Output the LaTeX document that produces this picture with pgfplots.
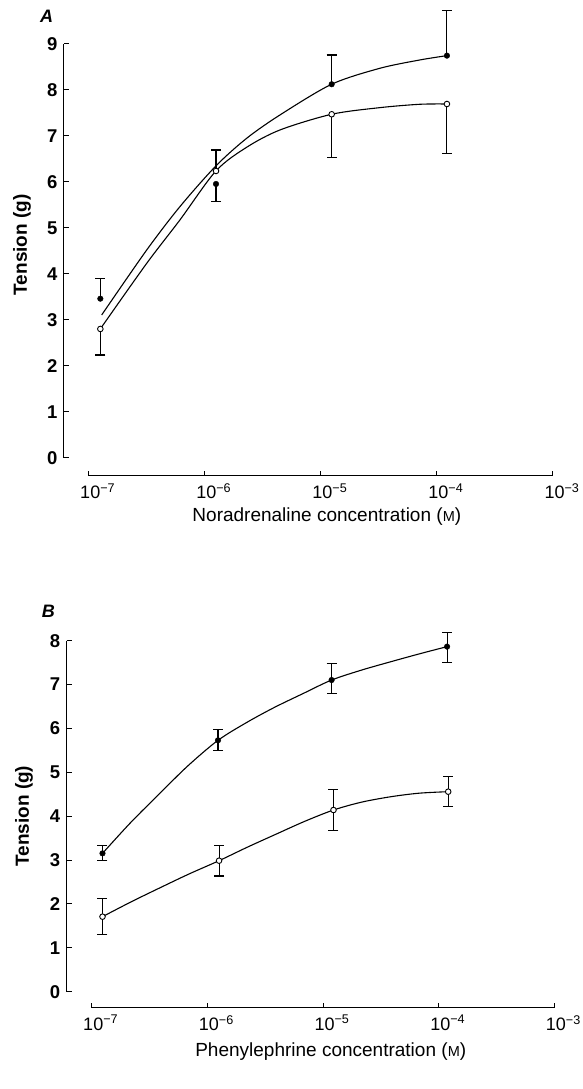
\documentclass[border=0pt]{standalone}
\usepackage{pgfplots}
\pgfplotsset{compat=1.18}
\usepackage{fontspec}
\setmainfont{Liberation Sans}

\pgfplotsset{
  fitline/.style={smooth, black, line width=1.1pt, mark=none},
  filledpt/.style={only marks, mark=*, mark size=2.8pt, mark options={fill=black, draw=black}},
  openpt/.style={only marks, mark=*, mark size=2.8pt, mark options={fill=white, draw=black, line width=0.9pt}},
}

\begin{document}
\begin{tikzpicture}
\path[use as bounding box] (0,0) rectangle (583pt,1089pt);

% Panel A: noradrenaline
\begin{axis}[scale only axis, clip=false,
  at={(88.7pt,631pt)}, anchor=south west,
  width=464.3pt, height=414.3pt,
  xmode=log, xmin=1e-7, xmax=1e-3, ymin=0, ymax=9,
  axis x line=bottom, axis y line=left,
  axis line style={-, line width=1pt},
  axis x line shift=18pt, axis y line shift=24.7pt,
  tick align=inside, major tick length=5pt,
  tick style={black, line width=1pt},
  xminorticks=false, yminorticks=false,
  xtick={1e-7,1e-6,1e-5,1e-4,1e-3},
  xticklabels={10\textsuperscript{−7},10\textsuperscript{−6},10\textsuperscript{−5},10\textsuperscript{−4},10\textsuperscript{−3}},
  xticklabel style={font=\fontsize{18}{18}\selectfont, anchor=north, xshift=9pt, yshift=-4pt},
  ytick={0,1,2,3,4,5,6,7,8,9}, yticklabels={0,1,2,3,4,5,6,7,8,9},
  yticklabel style={font=\bfseries\fontsize{18.5}{18.5}\selectfont, anchor=east, xshift=-3pt},
  xlabel={Noradrenaline concentration ({\fontsize{14.5}{14.5}\selectfont M})},
  xlabel style={font=\fontsize{19}{19}\selectfont, anchor=center, at={(axis description cs:0.5,0)}, xshift=6pt, yshift=-59pt},
  ylabel={Tension (g)},
  ylabel style={font=\bfseries\fontsize{19}{19}\selectfont, anchor=center, at={(axis description cs:0,0.5)}, xshift=6pt, yshift=66.7pt},
]
\addplot[draw=none, forget plot, error bars/.cd, y dir=plus, y explicit, error bar style={draw=black, line width=1.1pt}, error mark options={rotate=90, draw=black, line width=1.1pt, mark size=5pt}]
  coordinates {(1.26e-7,3.461) +- (0,0.443) (1.24e-5,8.119) +- (0,0.636) (1.22e-4,8.740) +- (0,0.978) (1.25e-6,6.235) +- (0,0.456)};
\addplot[draw=none, forget plot, error bars/.cd, y dir=minus, y explicit, error bar style={draw=black, line width=1.1pt}, error mark options={rotate=90, draw=black, line width=1.1pt, mark size=5pt}]
  coordinates {(1.25e-6,5.953) +- (0,0.384) (1.26e-7,2.803) +- (0,0.565) (1.24e-5,7.467) +- (0,0.943) (1.22e-4,7.690) +- (0,1.070)};
% fitted curves
\addplot[fitline] coordinates {(1.294e-7,3.107) (3.162e-7,4.519) (6.109e-7,5.460) (1.247e-6,6.344) (2.296e-6,6.945) (4.446e-6,7.452) (1.239e-5,8.119) (3.228e-5,8.466) (7.145e-5,8.647) (1.219e-4,8.740)};
\addplot[fitline] coordinates {(1.27e-7,2.817) (3.162e-7,4.229) (6.109e-7,5.171) (1.247e-6,6.235) (2.296e-6,6.750) (4.446e-6,7.126) (1.239e-5,7.467) (3.228e-5,7.611) (7.145e-5,7.684) (1.219e-4,7.690)};
% means
\addplot[filledpt] coordinates {(1.26e-7,3.461) (1.25e-6,5.953) (1.24e-5,8.119) (1.22e-4,8.740)};
\addplot[openpt] coordinates {(1.26e-7,2.803) (1.25e-6,6.235) (1.24e-5,7.467) (1.22e-4,7.690)};
\end{axis}

% Panel B: phenylephrine
\begin{axis}[scale only axis, clip=false,
  at={(91.7pt,97.3pt)}, anchor=south west,
  width=462.7pt, height=351pt,
  xmode=log, xmin=1e-7, xmax=1e-3, ymin=0, ymax=8,
  axis x line=bottom, axis y line=left,
  axis line style={-, line width=1pt},
  axis x line shift=16pt, axis y line shift=25pt,
  tick align=inside, major tick length=5pt,
  tick style={black, line width=1pt},
  xminorticks=false, yminorticks=false,
  xtick={1e-7,1e-6,1e-5,1e-4,1e-3},
  xticklabels={10\textsuperscript{−7},10\textsuperscript{−6},10\textsuperscript{−5},10\textsuperscript{−4},10\textsuperscript{−3}},
  xticklabel style={font=\fontsize{18}{18}\selectfont, anchor=north, xshift=9pt, yshift=-4pt},
  ytick={0,1,2,3,4,5,6,7,8}, yticklabels={0,1,2,3,4,5,6,7,8},
  yticklabel style={font=\bfseries\fontsize{18.5}{18.5}\selectfont, anchor=east, xshift=-3pt},
  xlabel={Phenylephrine concentration ({\fontsize{14.5}{14.5}\selectfont M})},
  xlabel style={font=\fontsize{19}{19}\selectfont, anchor=center, at={(axis description cs:0.5,0)}, xshift=7.7pt, yshift=-60pt},
  ylabel={Tension (g)},
  ylabel style={font=\bfseries\fontsize{19}{19}\selectfont, anchor=center, at={(axis description cs:0,0.5)}, yshift=67.7pt},
]
\addplot[draw=none, forget plot, error bars/.cd, y dir=both, y explicit, error bar style={draw=black, line width=1.1pt}, error mark options={rotate=90, draw=black, line width=1.1pt, mark size=5pt}]
  coordinates {(1.24e-7,3.153) += (0,0.17) -= (0,0.16) (1.236e-6,5.730) += (0,0.25) -= (0,0.24) (1.186e-5,7.104) += (0,0.38) -= (0,0.31) (1.181e-4,7.865) += (0,0.33) -= (0,0.36)
  (1.24e-7,1.710) += (0,0.41) -= (0,0.40) (1.262e-6,2.986) += (0,0.35) -= (0,0.35) (1.231e-5,4.141) += (0,0.46) -= (0,0.47) (1.208e-4,4.559) += (0,0.34) -= (0,0.34)};
\addplot[fitline] coordinates {(1.24e-7,3.153) (2.17e-7,3.854) (3.914e-7,4.530) (6.8e-7,5.150) (1.236e-6,5.730) (2.2e-6,6.140) (3.8e-6,6.480) (6.9e-6,6.810) (1.186e-5,7.104) (2.15e-5,7.330) (3.88e-5,7.523) (6.8e-5,7.700) (1.181e-4,7.865)};
\addplot[fitline] coordinates {(1.24e-7,1.710) (2.2e-7,2.050) (3.914e-7,2.371) (6.9e-7,2.680) (1.262e-6,2.986) (2.2e-6,3.290) (3.899e-6,3.587) (6.9e-6,3.880) (1.231e-5,4.141) (2.15e-5,4.320) (3.88e-5,4.445) (6.8e-5,4.525) (1.208e-4,4.559)};
\addplot[filledpt] coordinates {(1.24e-7,3.153) (1.236e-6,5.730) (1.186e-5,7.104) (1.181e-4,7.865)};
\addplot[openpt] coordinates {(1.24e-7,1.710) (1.262e-6,2.986) (1.231e-5,4.141) (1.208e-4,4.559)};
\end{axis}

\node[font=\bfseries\itshape\fontsize{18}{18}\selectfont] at (46.6pt,1072.3pt) {A};
\node[font=\bfseries\itshape\fontsize{18}{18}\selectfont] at (48.4pt,477.3pt) {B};
\end{tikzpicture}
\end{document}
